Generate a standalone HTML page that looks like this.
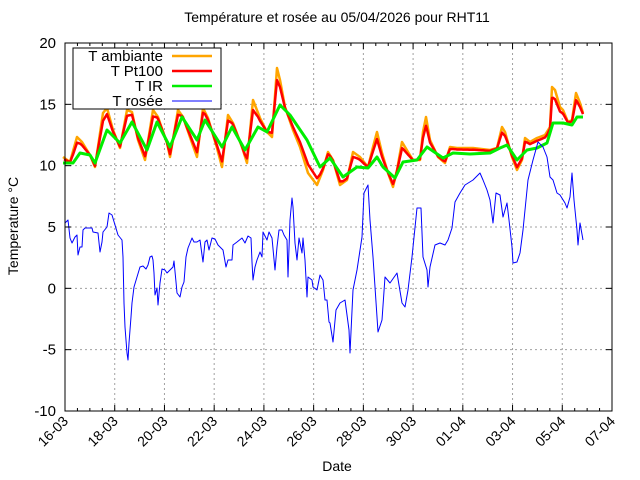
<!DOCTYPE html>
<html><head><meta charset="utf-8"><style>
html,body{margin:0;padding:0;background:#fff;}
svg{display:block;font-family:"Liberation Sans",sans-serif;}
</style></head><body>
<svg id="s" width="640" height="480" xmlns="http://www.w3.org/2000/svg">
<rect width="640" height="480" fill="#fff"/>
<g id="grid" stroke="#a0a0a0" stroke-width="1" stroke-dasharray="2,3"></g>
<g id="series" fill="none" stroke-linejoin="round"></g>
<g id="axes" stroke="#000" stroke-width="1"></g>
<g id="labels" font-size="14" fill="#000"></g>
<text x="337" y="22" text-anchor="middle" font-size="14">Température et rosée au 05/04/2026 pour RHT11</text>
<text x="337" y="471" text-anchor="middle" font-size="14">Date</text>
<text transform="translate(18,226) rotate(-90)" text-anchor="middle" font-size="14">Temperature °C</text>
<g id="legend">
<rect x="73" y="48" width="148" height="61" fill="#fff" stroke="#000"/>
<text x="163" y="61" text-anchor="end" font-size="15">T ambiante</text>
<text x="163" y="76" text-anchor="end" font-size="15">T Pt100</text>
<text x="163" y="91" text-anchor="end" font-size="15">T IR</text>
<text x="163" y="106" text-anchor="end" font-size="15">T rosée</text>
<line x1="172" y1="56" x2="212" y2="56" stroke="#ffa500" stroke-width="2.5"/>
<line x1="172" y1="71" x2="212" y2="71" stroke="#ff0000" stroke-width="2.5"/>
<line x1="172" y1="86" x2="212" y2="86" stroke="#00ee00" stroke-width="2.5"/>
<line x1="172" y1="101" x2="212" y2="101" stroke="#0000ff" stroke-width="1"/>
</g>
</svg>
<script>
var NS="http://www.w3.org/2000/svg";
function el(p,t,a){var e=document.createElementNS(NS,t);for(var k in a)e.setAttribute(k,a[k]);p.appendChild(e);return e;}
var L=65,R=612,T=43,B=411,day=(R-L)/22;
function Y(v){return B-(v+10)*(B-T)/30;}
var grid=document.getElementById('grid'),axes=document.getElementById('axes'),lab=document.getElementById('labels');
var xl=["16-03","18-03","20-03","22-03","24-03","26-03","28-03","30-03","01-04","03-04","05-04","07-04"];
for(var i=0;i<12;i++){var x=L+i*2*day;
 if(i>0&&i<11)el(grid,'line',{x1:x,y1:T,x2:x,y2:B});
 el(axes,'line',{x1:x,y1:B,x2:x,y2:B-6});el(axes,'line',{x1:x,y1:T,x2:x,y2:T+6});
 var t=el(lab,'text',{'text-anchor':'end',transform:'translate('+(x+4)+','+(B+11)+') rotate(-45)'});t.textContent=xl[i];}
for(var j=0;j<44;j++){if(j%4==0)continue;var x=L+j*day/2;
 el(axes,'line',{x1:x,y1:B,x2:x,y2:B-3});el(axes,'line',{x1:x,y1:T,x2:x,y2:T+3});}
for(var v=-10;v<=20;v+=5){var y=Y(v);
 if(v>-10&&v<20)el(grid,'line',{x1:L,y1:y,x2:R,y2:y});
 el(axes,'line',{x1:L,y1:y,x2:L+6,y2:y});el(axes,'line',{x1:R,y1:y,x2:R-6,y2:y});
 var t=el(lab,'text',{x:56,y:y+5,'text-anchor':'end','font-size':15});t.textContent=v;}
el(axes,'rect',{x:L,y:T,width:R-L,height:B-T,fill:'none'});
var O=[[63,157],[70,162],[77,137],[82,142],[90,155],[95,167],[103,113],[107,108],[113,130],[120,148],[127,110],[132,112],[138,140],[145,160],[153,110],[158,117],[167,143],[170,157],[178,110],[183,117],[192,143],[197,157],[203,108],[208,118],[217,148],[222,167],[228,115],[233,123],[242,147],[247,163],[253,100],[260,118],[267,132],[272,137],[277,68],[280,80],[285,107],[293,130],[300,147],[308,173],[317,185],[323,170],[328,152],[333,160],[340,185],[347,180],[353,152],[360,157],[368,167],[373,147],[377,132],[382,153],[388,173],[393,187],[397,170],[402,142],[408,152],[413,160],[420,160],[423,132],[426,117],[430,140],[438,157],[445,163],[450,147],[457,148],[473,148],[490,150],[497,148],[502,127],[505,132],[512,157],[517,170],[522,160],[525,138],[530,142],[537,138],[545,135],[550,127],[552,87],[555,90],[560,107],[563,110],[568,122],[572,120],[576,93],[580,103],[583,113]];
var G=[[63,163],[73,163],[80,153],[90,155],[95,163],[107,130],[120,143],[132,122],[147,150],[157,122],[170,147],[182,117],[197,140],[205,120],[222,147],[232,127],[245,150],[258,127],[267,132],[280,105],[290,115],[307,140],[320,167],[330,158],[343,177],[357,167],[368,168],[377,157],[383,167],[395,178],[403,162],[417,160],[427,147],[443,158],[453,153],[470,154],[490,153],[500,148],[507,145],[517,160],[527,150],[537,148],[547,143],[553,123],[563,123],[572,125],[577,117],[583,117]];
var Bl=[[65,223],[68,220],[70,238],[72,243],[75,237],[77,235],[78,255],[80,247],[82,247],[83,230],[85,228],[92,228],[93,232],[98,233],[100,252],[102,242],[103,232],[107,227],[109,213],[112,215],[115,225],[118,235],[122,240],[123,257],[124,303],[125,327],[127,353],[128,360],[129,343],[131,317],[132,303],[134,287],[137,277],[140,267],[143,266],[146,269],[148,265],[150,257],[152,256],[153,260],[154,273],[155,295],[157,288],[158,305],[160,283],[162,269],[165,270],[167,273],[170,270],[173,267],[174,261],[176,282],[177,293],[180,297],[182,287],[184,282],[186,257],[188,248],[192,238],[194,242],[197,242],[200,240],[202,255],[203,262],[205,242],[207,240],[209,250],[212,238],[215,239],[218,245],[223,250],[226,267],[228,260],[232,260],[233,245],[237,242],[242,238],[245,243],[248,236],[251,238],[252,262],[253,280],[255,267],[257,260],[260,252],[262,257],[263,232],[267,240],[269,232],[272,238],[275,270],[277,247],[279,230],[282,230],[284,235],[287,240],[288,277],[290,220],[292,198],[293,207],[295,243],[297,260],[299,238],[302,253],[303,238],[305,260],[307,297],[308,277],[312,280],[313,287],[317,290],[320,275],[323,280],[325,300],[327,300],[329,322],[330,323],[333,342],[336,310],[340,303],[345,300],[349,330],[350,353],[353,290],[357,270],[362,237],[364,193],[368,185],[370,220],[373,257],[377,317],[378,332],[382,320],[385,277],[390,283],[397,273],[402,303],[405,307],[408,290],[412,257],[417,208],[421,208],[423,257],[427,270],[428,287],[430,267],[435,245],[440,243],[445,245],[448,240],[452,228],[455,202],[460,193],[465,185],[473,180],[480,173],[483,180],[487,190],[490,200],[493,223],[496,193],[500,195],[503,217],[507,203],[509,220],[512,247],[513,263],[517,262],[520,253],[523,230],[528,180],[533,160],[538,142],[543,147],[547,157],[550,177],[553,180],[557,193],[560,195],[565,203],[567,208],[570,197],[572,173],[574,200],[577,230],[578,245],[580,223],[583,240]];
function interp(a,x){if(x<=a[0][0])return a[0][1];for(var i=1;i<a.length;i++){if(x<=a[i][0]){var t=(x-a[i-1][0])/(a[i][0]-a[i-1][0]);return a[i-1][1]+t*(a[i][1]-a[i-1][1]);}}return a[a.length-1][1];}
var Rd=[];for(var x=64;x<=583;x+=1){var g=interp(G,x),o=interp(O,x);Rd.push([x,g+0.72*(o-g)]);}
function pts(a){return a.map(function(p){return p[0].toFixed(1)+','+p[1].toFixed(1)}).join(' ');}
var sg=document.getElementById('series');
el(sg,'polyline',{points:pts(O),stroke:'#ffa500','stroke-width':2.5});
el(sg,'polyline',{points:pts(Rd),stroke:'#ff0000','stroke-width':2.5});
el(sg,'polyline',{points:pts(G),stroke:'#00ee00','stroke-width':3});
el(sg,'polyline',{points:pts(Bl),stroke:'#0000ff','stroke-width':1});
</script>
</body></html>
